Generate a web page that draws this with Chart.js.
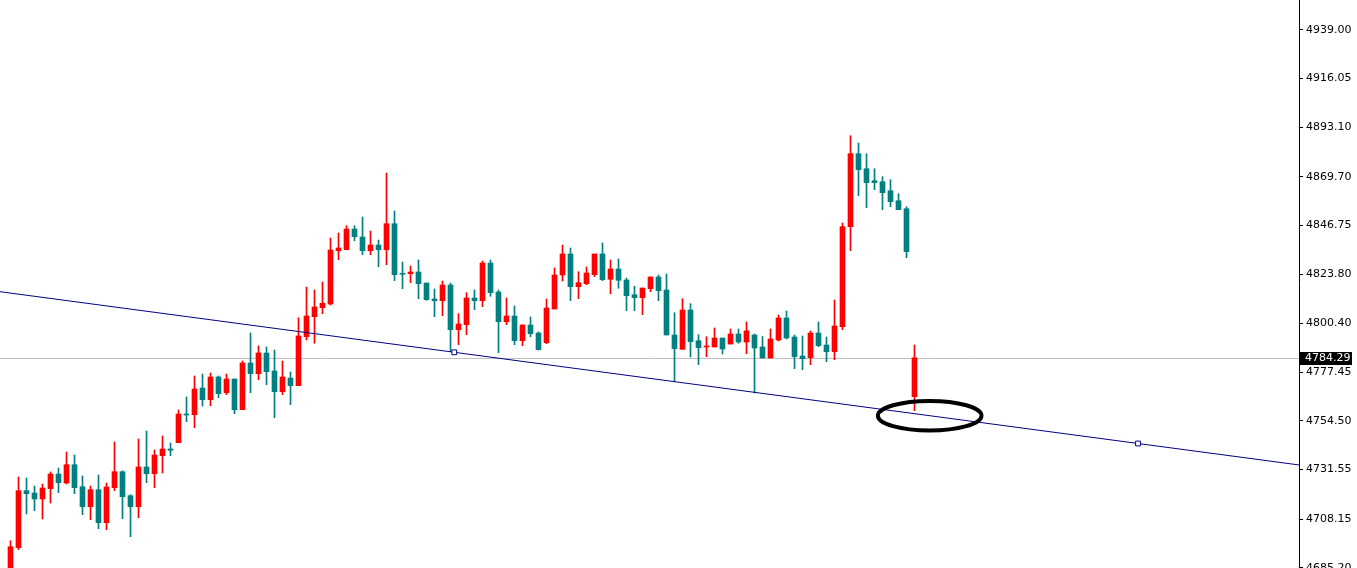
<!DOCTYPE html>
<html><head><meta charset="utf-8">
<script src="https://cdn.jsdelivr.net/npm/chart.js@4.4.1/dist/chart.umd.min.js"></script>
<style>html,body{margin:0;padding:0;background:#fff;overflow:hidden}canvas{display:block}</style>
</head><body>
<canvas id="c" width="1357" height="568"></canvas>
<script>
const opens = [4681.8,4694.68,4721.57,4720.49,4717.66,4722.52,4729.45,4725.21,4733.84,4723.46,
4714.02,4722.04,4706.48,4722.99,4730.54,4719.22,4714.02,4732.76,4729.59,4738.09,
4741.25,4744.22,4757.76,4757.43,4770.03,4764.51,4775.22,4767.81,4774.28,4759.79,
4781.83,4776.78,4786.55,4778.05,4768.28,4774.75,4771.12,4794.24,4803.67,4807.92,
4809.66,4834.81,4835.28,4845.05,4841.28,4834.81,4837.50,4835.28,4847.55,4823.96,
4823.96,4824.76,4819.57,4812.02,4811.22,4818.63,4797.54,4799.90,4812.50,4811.22,
4829.01,4815.33,4801.31,4804.00,4792.35,4799.76,4795.98,4791.40,4807.31,4823.35,
4833.26,4817.83,4819.24,4823.49,4833.26,4821.32,4826.18,4820.99,4814.05,4812.64,
4816.88,4822.40,4816.27,4795.04,4788.29,4806.83,4792.35,4789.38,4789.38,4793.62,
4790.79,4795.51,4791.74,4795.04,4789.38,4784.20,4792.68,4803.06,4794.10,4785.13,
4784.33,4795.98,4790.32,4787.16,4798.95,4846.14,4880.58,4873.50,4867.84,4867.37,
4863.12,4858.40,4854.63,4765.93];
const highs = [4697.98,4728.04,4727.57,4723.79,4724.73,4730.40,4732.29,4739.83,4738.42,4728.51,
4723.79,4728.98,4725.21,4744.55,4731.01,4719.69,4745.97,4749.74,4740.78,4747.38,
4744.08,4759.65,4765.78,4775.69,4776.64,4777.11,4775.69,4776.64,4774.28,4782.77,
4795.98,4789.85,4789.38,4787.96,4782.77,4777.58,4803.20,4817.68,4816.27,4820.04,
4840.80,4843.16,4846.61,4846.61,4850.71,4844.11,4839.86,4871.47,4853.54,4829.48,
4827.59,4830.42,4819.57,4816.74,4820.52,4819.57,4805.09,4815.00,4816.27,4829.95,
4830.42,4816.27,4812.50,4808.72,4799.76,4803.53,4796.45,4812.02,4826.65,4837.50,
4836.09,4824.90,4827.12,4833.26,4838.45,4830.42,4830.90,4821.93,4818.02,4817.21,
4822.40,4823.35,4823.82,4805.56,4812.17,4809.81,4795.18,4794.24,4798.34,4793.62,
4797.87,4797.87,4801.17,4795.51,4794.33,4797.87,4804.47,4806.36,4795.04,4794.57,
4796.92,4801.17,4794.10,4811.55,4847.88,4889.07,4885.63,4880.58,4873.50,4869.73,
4868.31,4861.71,4855.57,4790.32];
const lows = [4680.00,4693.74,4710.58,4712.14,4708.22,4715.77,4720.63,4724.73,4720.16,4710.25,
4707.89,4703.65,4703.18,4721.57,4708.36,4699.87,4708.83,4725.35,4722.99,4729.92,
4738.09,4744.22,4754.13,4751.30,4761.54,4761.68,4765.45,4766.87,4757.91,4759.79,
4767.81,4773.95,4771.59,4756.02,4766.87,4762.16,4771.12,4792.68,4791.12,4805.09,
4809.19,4830.56,4835.28,4839.53,4832.93,4832.93,4827.26,4828.21,4820.66,4816.88,
4819.71,4812.17,4811.41,4803.67,4804.14,4787.16,4790.46,4795.18,4806.97,4808.39,
4813.30,4786.69,4799.90,4790.46,4789.99,4794.24,4787.96,4790.93,4807.31,4820.52,
4811.22,4812.17,4818.77,4822.55,4820.66,4814.53,4817.07,4806.50,4806.50,4804.62,
4815.47,4811.22,4795.04,4773.00,4788.29,4784.66,4781.03,4784.80,4789.38,4786.07,
4790.79,4791.12,4786.21,4767.67,4784.19,4784.20,4792.21,4793.15,4779.14,4778.67,
4781.03,4789.52,4782.44,4783.39,4797.54,4834.81,4860.76,4855.10,4863.59,4854.16,
4855.57,4854.16,4831.51,4759.32];
const closes = [4695.15,4721.57,4720.16,4717.66,4722.85,4729.45,4725.35,4733.84,4722.99,4714.02,
4722.04,4706.48,4723.32,4730.54,4718.74,4714.02,4732.76,4729.59,4738.42,4741.25,
4740.64,4757.76,4757.29,4769.56,4764.51,4775.22,4767.34,4774.28,4759.79,4781.83,
4776.78,4786.55,4777.72,4768.28,4775.22,4771.12,4794.57,4804.00,4808.25,4810.00,
4835.14,4836.09,4845.05,4841.42,4834.81,4837.50,4835.28,4847.55,4823.49,4823.70,
4824.76,4819.24,4811.69,4811.22,4818.63,4797.54,4800.23,4812.50,4811.22,4829.01,
4815.00,4801.31,4804.00,4792.35,4799.76,4795.65,4788.10,4807.78,4823.35,4833.26,
4817.83,4819.71,4824.29,4833.26,4821.13,4826.18,4820.85,4813.58,4812.64,4817.21,
4822.40,4815.94,4795.04,4788.57,4806.83,4791.87,4789.05,4789.61,4793.62,4788.43,
4795.51,4791.74,4797.00,4788.90,4784.20,4793.15,4803.06,4793.62,4784.80,4783.86,
4795.98,4790.00,4787.16,4799.28,4846.14,4880.58,4873.03,4866.90,4866.90,4862.18,
4857.93,4854.16,4834.34,4784.29];
const yTicks = [4939.00,4916.05,4893.10,4869.70,4846.75,4823.80,4800.40,4777.45,4754.50,4731.55,4708.15,4685.20];
const currentPrice = 4784.29;
const trendAnchors = [{x:55.47, y:4786.88},{x:140.94, y:4743.85}];
const ellipseMark = {x:114.9, y:4756.96, rx:6.475, ry:6.98};

const yMin = 4685.1, yMax = 4953.1;
const xMin = -1.3125, xMax = -1.3125 + 1299/8;
const UP = '#ff0000', DOWN = '#008080', TREND = '#000080';

const idx = opens.map((_, i) => i);
const cols = idx.map(i => closes[i] >= opens[i] ? UP : DOWN);
const slope = (trendAnchors[1].y - trendAnchors[0].y) / (trendAnchors[1].x - trendAnchors[0].x);
const trendAt = x => trendAnchors[0].y + slope * (x - trendAnchors[0].x);

const overlay = {
  id: 'overlay',
  beforeDatasetsDraw(chart) {
    const {ctx, chartArea, scales} = chart;
    const y = Math.round(scales.y.getPixelForValue(currentPrice)) + 0.5;
    ctx.save();
    ctx.strokeStyle = '#c0c0c0'; ctx.lineWidth = 1;
    ctx.beginPath(); ctx.moveTo(chartArea.left, y); ctx.lineTo(chartArea.right, y); ctx.stroke();
    ctx.restore();
  },
  afterDatasetsDraw(chart) {
    const {ctx, scales} = chart;
    const cx = scales.x.getPixelForValue(ellipseMark.x);
    const cy = scales.y.getPixelForValue(ellipseMark.y);
    const rx = Math.abs(scales.x.getPixelForValue(ellipseMark.x + ellipseMark.rx) - cx);
    const ry = Math.abs(scales.y.getPixelForValue(ellipseMark.y + ellipseMark.ry) - cy);
    ctx.save();
    ctx.strokeStyle = '#000'; ctx.lineWidth = 4;
    ctx.beginPath(); ctx.ellipse(cx, cy, rx, ry, 0, 0, Math.PI * 2); ctx.stroke();
    ctx.restore();
  },
  afterDraw(chart) {
    const {ctx, chartArea, scales} = chart;
    const y = Math.round(scales.y.getPixelForValue(currentPrice));
    ctx.save();
    ctx.fillStyle = '#000';
    ctx.fillRect(chartArea.right + 1, y - 6, 52, 13);
    ctx.fillStyle = '#fff';
    ctx.font = '11px "DejaVu Sans"';
    ctx.textBaseline = 'middle';
    ctx.fillText(currentPrice.toFixed(2), chartArea.right + 6, y + 0.5);
    ctx.restore();
  }
};

new Chart(document.getElementById('c'), {
  type: 'bar',
  data: {
    datasets: [
      {
        type: 'line',
        data: [{x: xMin, y: trendAt(xMin)}, trendAnchors[0], trendAnchors[1], {x: xMax, y: trendAt(xMax)}],
        borderColor: TREND, borderWidth: 1,
        pointRadius: [0, 3.4, 3.4, 0], pointStyle: 'rect',
        pointBackgroundColor: '#fff', pointBorderColor: TREND, pointBorderWidth: 1,
        order: 0
      },
      {
        data: idx.map(i => ({x: i, y: [opens[i], closes[i]]})),
        backgroundColor: cols, borderWidth: 0,
        barThickness: 5, minBarLength: 1, grouped: false, order: 1
      },
      {
        data: idx.map(i => ({x: i, y: [lows[i], highs[i]]})),
        backgroundColor: cols, borderWidth: 0,
        barThickness: 1, minBarLength: 1, grouped: false, order: 2
      }
    ]
  },
  options: {
    responsive: false, animation: false, devicePixelRatio: 1,
    layout: {padding: 0, autoPadding: false},
    plugins: {legend: {display: false}, tooltip: {enabled: false}},
    events: [],
    scales: {
      x: {type: 'linear', min: xMin, max: xMax, display: false, offset: false},
      y: {
        position: 'right', min: yMin, max: yMax,
        afterBuildTicks: s => { s.ticks = yTicks.map(v => ({value: v})); },
        afterFit: s => { s.width = 58; s.paddingTop = 0; s.paddingBottom = 0; },
        ticks: {color: '#000', font: {family: 'DejaVu Sans', size: 11}, padding: 3,
                autoSkip: false, callback: v => Number(v).toFixed(2)},
        grid: {drawOnChartArea: false, drawTicks: true, tickLength: 4, color: '#000', lineWidth: 1},
        border: {display: true, color: '#000', width: 1}
      }
    }
  },
  plugins: [overlay]
});
</script>
</body></html>
